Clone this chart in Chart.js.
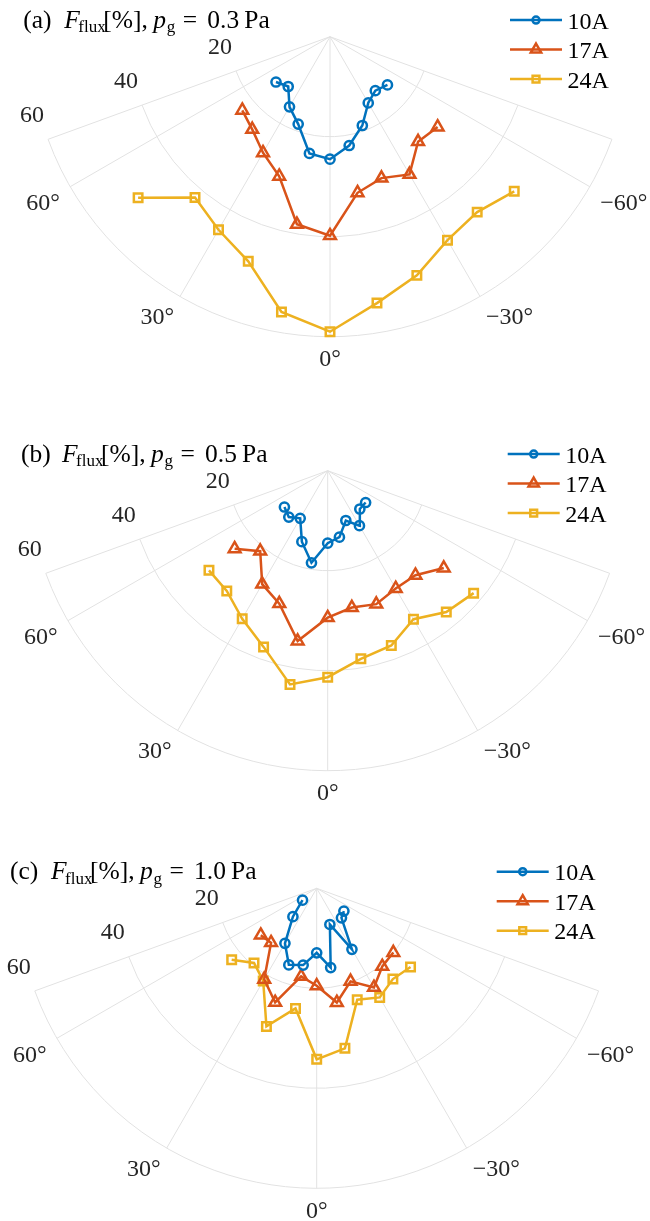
<!DOCTYPE html>
<html>
<head>
<meta charset="utf-8">
<script src="https://cdn.jsdelivr.net/npm/chart.js@4.4.1/dist/chart.umd.min.js"></script>
<style>
  html, body { margin: 0; padding: 0; background: #fff; }
  .panel { position: absolute; left: 0; width: 650px; height: 407px; }
</style>
</head>
<body>
<div class="panel" style="top:0px"><canvas id="chartA" width="650" height="407"></canvas></div>
<div class="panel" style="top:407px"><canvas id="chartB" width="650" height="407"></canvas></div>
<div class="panel" style="top:814px"><canvas id="chartC" width="650" height="407"></canvas></div>
<script>
// ==== Data ====
const angles = [50, 40, 30, 20, 10, 0, -10, -20, -30, -40, -50];
const seriesNames = ['10A', '17A', '24A'];
const panelTags = ['(a)', '(b)', '(c)'];
const pressures = ['0.3', '0.5', '1.0'];
const rTicks = [20, 40, 60];
const thetaTicks = [60, 30, 0, -30, -60];
const thetaEdges = [70, -70];

const flux03_10A = [14.1, 13.0, 16.2, 18.6, 23.7, 24.5, 22.1, 18.9, 15.3, 14.1, 15.0];
const flux03_17A = [22.9, 24.2, 26.8, 29.7, 38.1, 39.8, 31.7, 30.1, 31.8, 27.4, 28.1];
const flux03_24A = [50.1, 42.0, 44.6, 47.8, 55.9, 59.0, 54.1, 50.8, 47.0, 45.8, 48.1];

const flux05_10A = [11.3, 12.1, 11.0, 15.1, 18.7, 14.5, 13.5, 10.6, 12.7, 10.0, 9.9];
const flux05_17A = [24.3, 21.0, 26.2, 28.3, 34.6, 29.4, 27.8, 28.4, 27.2, 27.3, 30.3];
const flux05_24A = [31.0, 31.4, 34.2, 37.5, 43.4, 41.3, 38.2, 37.2, 34.3, 36.9, 38.1];

const flux10_10A = [3.7, 7.4, 12.7, 16.3, 15.6, 12.9, 16.1, 7.7, 14.1, 7.7, 7.1];
const flux10_17A = [14.6, 14.2, 21.0, 24.3, 17.9, 19.5, 23.2, 19.8, 22.9, 20.4, 20.0];
const flux10_24A = [22.2, 19.5, 21.4, 29.4, 24.4, 34.2, 32.5, 23.7, 25.2, 23.7, 24.5];

// ==== Styles ====
const colors = ['#0072BD', '#D95319', '#EDB120'];
const markers = ['circle', 'triangle', 'rect'];
const markerSizes = [4.6, 6.8, 6];
const legendSizes = [3.5, 6, 4.8];
const lineW = 2.5;
const gridColor = '#e2e2e2';
const tickColor = '#262626';
const serif = '"Liberation Serif", "DejaVu Serif", serif';

const W = 650, H = 407, PX = 5; // 5 px per unit of radius
const DEG = Math.PI / 180;

// polar (deg, r) -> plane, 0 deg points down, positive angles to the left
function toXY(vals) {
  return angles.map((a, i) => ({ x: -vals[i] * Math.sin(a * DEG), y: -vals[i] * Math.cos(a * DEG) }));
}

function thetaLabel(t) {
  return (t < 0 ? '\u2212' + (-t) : '' + t) + '\u00b0';
}

// ==== Polar grid, drawn through the chart's own scales ====
const polarGrid = {
  id: 'polarGrid',
  beforeDatasetsDraw(chart) {
    const ctx = chart.ctx;
    const xs = chart.scales.x, ys = chart.scales.y;
    const cx = xs.getPixelForValue(0), cy = ys.getPixelForValue(0);
    const k = xs.getPixelForValue(1) - cx;
    const rMax = rTicks[rTicks.length - 1];
    const R = rMax * k;
    ctx.save();
    ctx.strokeStyle = gridColor;
    ctx.lineWidth = 1;
    // rings
    rTicks.forEach(r => {
      ctx.beginPath();
      ctx.arc(cx, cy, r * k, (90 - thetaEdges[0]) * DEG, (90 + thetaEdges[0]) * DEG);
      ctx.stroke();
    });
    // spokes
    thetaTicks.concat(thetaEdges).forEach(t => {
      ctx.beginPath();
      ctx.moveTo(cx, cy);
      ctx.lineTo(xs.getPixelForValue(-rMax * Math.sin(t * DEG)), ys.getPixelForValue(-rMax * Math.cos(t * DEG)));
      ctx.stroke();
    });
    // theta labels
    ctx.fillStyle = tickColor;
    ctx.font = '24px ' + serif;
    ctx.textBaseline = 'middle';
    thetaTicks.forEach(t => {
      const ax = cx - (R + 12) * Math.sin(t * DEG);
      const ay = cy + (R + 12) * Math.cos(t * DEG) + 11;
      ctx.textAlign = t > 0 ? 'right' : (t < 0 ? 'left' : 'center');
      ctx.fillText(thetaLabel(t), ax, ay);
    });
    // r labels along the 70 deg edge
    const e = thetaEdges[0] * DEG;
    const dx = -Math.sin(e), dy = Math.cos(e);
    const nx = -Math.cos(e), ny = -Math.sin(e);
    ctx.textAlign = 'center';
    rTicks.forEach(r => {
      const along = r * k + 7, off = 27.6;
      ctx.fillText('' + r, cx + dx * along + nx * off, cy + dy * along + ny * off);
    });
    ctx.restore();
  }
};

// ==== Title and legend ====
const titleLegend = {
  id: 'titleLegend',
  afterDraw(chart) {
    const ctx = chart.ctx;
    const opts = chart.options.plugins.titleLegend;
    const cx = chart.scales.x.getPixelForValue(0), cy = chart.scales.y.getPixelForValue(0);
    ctx.save();
    ctx.fillStyle = '#000';
    ctx.textAlign = 'left';
    ctx.textBaseline = 'alphabetic';
    const x0 = cx - 306.7, base = cy - 9;
    const big = '25.5px ' + serif, bigIt = 'italic 25.5px ' + serif, small = '17px ' + serif;
    const parts = [
      [opts.tag, 0, big, 0],
      ['F', 41, bigIt, 0],
      ['flux', 55, small, 4.5],
      ['[%],', 80, big, 0],
      ['p', 130, bigIt, 0],
      ['g', 143.5, small, 4.5],
      ['=', 159.5, big, 0],
      [opts.p, 184, big, 0],
      ['Pa', 221, big, 0]
    ];
    parts.forEach(([s, dx, f, dy]) => {
      ctx.font = f;
      ctx.fillText(s, x0 + dx, base + dy);
    });

    // legend
    chart.data.datasets.forEach((ds, i) => {
      const y = cy - 16.6 + i * 29.5;
      ctx.strokeStyle = ds.borderColor;
      ctx.lineWidth = lineW;
      ctx.beginPath();
      ctx.moveTo(cx + 180, y);
      ctx.lineTo(cx + 232, y);
      ctx.stroke();
      ctx.fillStyle = 'rgba(255,255,255,0)';
      Chart.helpers.drawPoint(ctx, { pointStyle: ds.pointStyle, rotation: 0, radius: legendSizes[i], borderWidth: lineW }, cx + 206, y);
      ctx.fillStyle = '#000';
      ctx.font = '24px ' + serif;
      ctx.fillText(ds.label, cx + 237.6, y + 8.5);
    });
    ctx.restore();
  }
};

function makePanel(id, idx, center, series) {
  const [cx, cy] = center;
  new Chart(document.getElementById(id), {
    type: 'scatter',
    data: {
      datasets: series.map((vals, i) => ({
        label: seriesNames[i],
        data: toXY(vals),
        showLine: true,
        borderColor: colors[i],
        borderWidth: lineW,
        pointStyle: markers[i],
        pointRadius: markerSizes[i],
        pointBorderWidth: lineW,
        pointBorderColor: colors[i],
        pointBackgroundColor: 'rgba(255,255,255,0)',
        clip: false
      }))
    },
    options: {
      responsive: false,
      animation: false,
      layout: { padding: 0, autoPadding: false },
      scales: {
        x: { type: 'linear', display: false, min: -cx / PX, max: (W - cx) / PX },
        y: { type: 'linear', display: false, min: -(H - cy) / PX, max: cy / PX }
      },
      plugins: {
        legend: { display: false },
        tooltip: { enabled: false },
        titleLegend: { tag: panelTags[idx], p: pressures[idx] }
      }
    },
    plugins: [polarGrid, titleLegend]
  });
}

makePanel('chartA', 0, [330, 36.7], [flux03_10A, flux03_17A, flux03_24A]);
makePanel('chartB', 1, [327.7, 63.7], [flux05_10A, flux05_17A, flux05_24A]);
makePanel('chartC', 2, [316.7, 74.3], [flux10_10A, flux10_17A, flux10_24A]);
</script>
</body>
</html>
